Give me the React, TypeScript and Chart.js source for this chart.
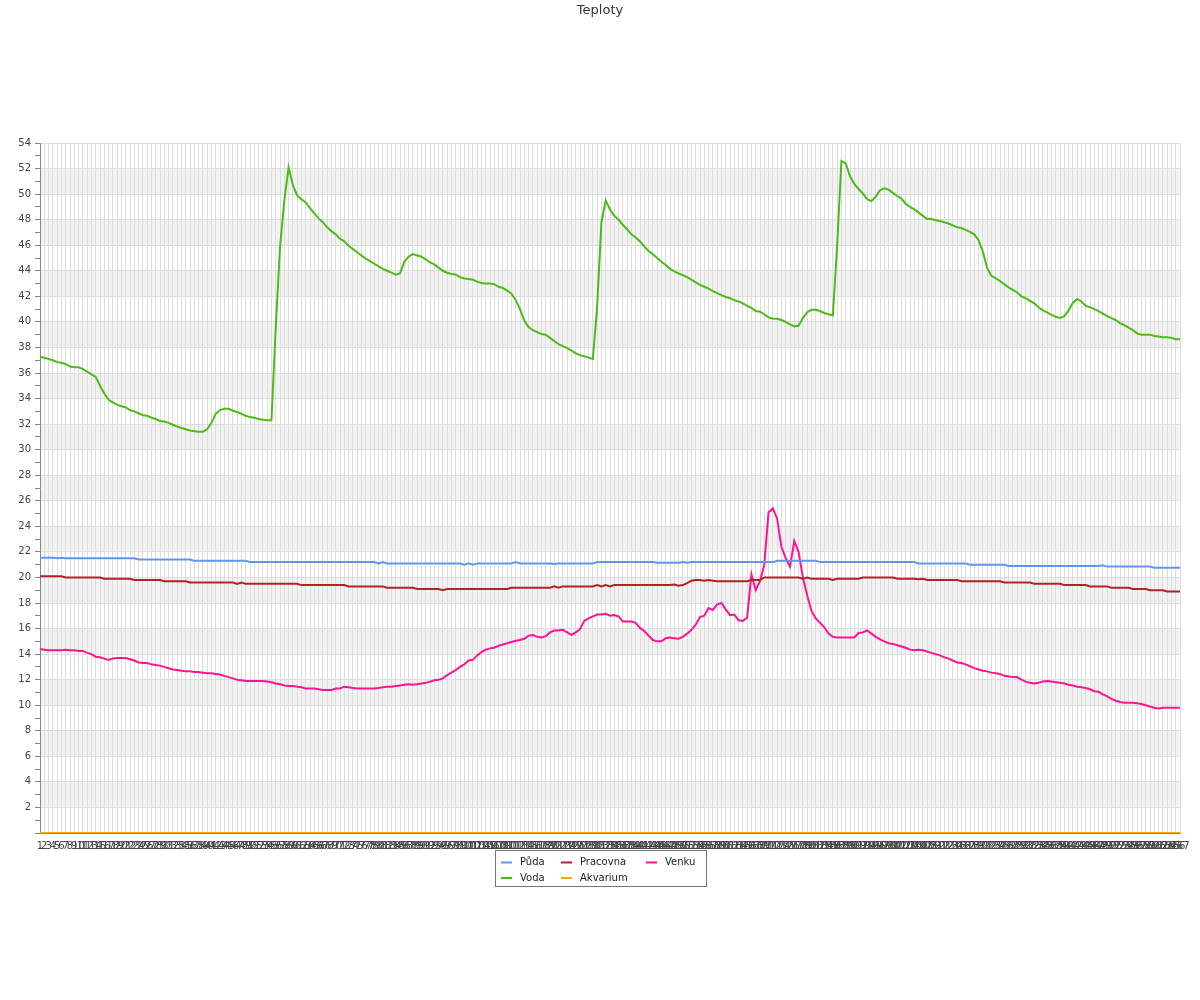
import React, { useEffect, useRef } from "react";
import { Chart, registerables } from "chart.js";

Chart.register(...registerables);

const TITLE = "Teploty";
const LABELS: string[] = Array.from({ length: 267 }, (_, i) => String(i + 1));

const PUDA = [
  21.55, 21.55, 21.55, 21.55, 21.5, 21.55, 21.5, 21.5, 21.5, 21.5,
  21.5, 21.5, 21.5, 21.5, 21.5, 21.5, 21.5, 21.5, 21.5, 21.5,
  21.5, 21.5, 21.5, 21.4, 21.4, 21.4, 21.4, 21.4, 21.4, 21.4,
  21.4, 21.4, 21.4, 21.4, 21.4, 21.4, 21.3, 21.3, 21.3, 21.3,
  21.3, 21.3, 21.3, 21.3, 21.3, 21.3, 21.3, 21.3, 21.3, 21.2,
  21.2, 21.2, 21.2, 21.2, 21.2, 21.2, 21.2, 21.2, 21.2, 21.2,
  21.2, 21.2, 21.2, 21.2, 21.2, 21.2, 21.2, 21.2, 21.2, 21.2,
  21.2, 21.2, 21.2, 21.2, 21.2, 21.2, 21.2, 21.2, 21.2, 21.1,
  21.2, 21.1, 21.1, 21.1, 21.1, 21.1, 21.1, 21.1, 21.1, 21.1,
  21.1, 21.1, 21.1, 21.1, 21.1, 21.1, 21.1, 21.1, 21.1, 21.0,
  21.1, 21.0, 21.1, 21.1, 21.1, 21.1, 21.1, 21.1, 21.1, 21.1,
  21.1, 21.2, 21.1, 21.1, 21.1, 21.1, 21.1, 21.1, 21.1, 21.1,
  21.05, 21.1, 21.1, 21.1, 21.1, 21.1, 21.1, 21.1, 21.1, 21.1,
  21.2, 21.2, 21.2, 21.2, 21.2, 21.2, 21.2, 21.2, 21.2, 21.2,
  21.2, 21.2, 21.2, 21.2, 21.15, 21.15, 21.15, 21.15, 21.15, 21.15,
  21.2, 21.15, 21.2, 21.2, 21.2, 21.2, 21.2, 21.2, 21.2, 21.2,
  21.2, 21.2, 21.2, 21.2, 21.2, 21.2, 21.2, 21.2, 21.2, 21.2,
  21.2, 21.2, 21.3, 21.3, 21.3, 21.3, 21.3, 21.3, 21.3, 21.3,
  21.3, 21.3, 21.2, 21.2, 21.2, 21.2, 21.2, 21.2, 21.2, 21.2,
  21.2, 21.2, 21.2, 21.2, 21.2, 21.2, 21.2, 21.2, 21.2, 21.2,
  21.2, 21.2, 21.2, 21.2, 21.2, 21.1, 21.1, 21.1, 21.1, 21.1,
  21.1, 21.1, 21.1, 21.1, 21.1, 21.1, 21.1, 21.0, 21.0, 21.0,
  21.0, 21.0, 21.0, 21.0, 21.0, 21.0, 20.9, 20.9, 20.9, 20.9,
  20.9, 20.9, 20.9, 20.9, 20.9, 20.9, 20.9, 20.9, 20.9, 20.9,
  20.9, 20.9, 20.9, 20.9, 20.9, 20.9, 20.9, 20.9, 20.95, 20.85,
  20.85, 20.85, 20.85, 20.85, 20.85, 20.85, 20.85, 20.85, 20.85, 20.85,
  20.75, 20.75, 20.75, 20.75, 20.75, 20.75, 20.75,
];

const VODA = [
  37.25, 37.2, 37.1, 37.0, 36.85, 36.8, 36.7, 36.5, 36.45, 36.45,
  36.3, 36.1, 35.9, 35.7, 35.0, 34.4, 33.9, 33.7, 33.5, 33.4,
  33.3, 33.1, 33.0, 32.85, 32.7, 32.65, 32.5, 32.4, 32.25, 32.2,
  32.1, 31.95, 31.8, 31.7, 31.6, 31.5, 31.45, 31.4, 31.4, 31.6,
  32.1, 32.8, 33.1, 33.2, 33.2, 33.05, 32.95, 32.8, 32.65, 32.55,
  32.5, 32.4, 32.35, 32.3, 32.3, 39.5, 45.8, 49.5, 52.1, 50.7,
  49.9, 49.6, 49.35, 48.9, 48.5, 48.1, 47.8, 47.4, 47.1, 46.85,
  46.5, 46.3, 45.95, 45.7, 45.45, 45.2, 44.95, 44.75, 44.55, 44.35,
  44.15, 44.0, 43.85, 43.7, 43.8, 44.7, 45.1, 45.3, 45.2, 45.1,
  44.9, 44.65, 44.5, 44.25, 44.0, 43.85, 43.75, 43.7, 43.5, 43.4,
  43.35, 43.3, 43.15, 43.05, 43.0, 43.0, 42.95, 42.75, 42.65, 42.45,
  42.2, 41.7, 41.0, 40.1, 39.6, 39.35, 39.2, 39.05, 39.0, 38.75,
  38.5, 38.25, 38.1, 37.95, 37.75, 37.55, 37.4, 37.3, 37.2, 37.1,
  41.2, 47.8, 49.5, 48.8, 48.3, 48.0, 47.6, 47.25, 46.85, 46.6,
  46.3, 45.9, 45.55, 45.3, 45.0, 44.7, 44.45, 44.15, 43.95, 43.8,
  43.65, 43.5, 43.3, 43.1, 42.9, 42.75, 42.6, 42.4, 42.25, 42.1,
  41.95, 41.85, 41.7, 41.6, 41.45, 41.25, 41.1, 40.85, 40.8, 40.6,
  40.35, 40.25, 40.25, 40.15, 40.0, 39.8, 39.65, 39.7, 40.3, 40.75,
  40.95, 40.95, 40.85, 40.7, 40.6, 40.5, 46.0, 52.6, 52.4, 51.4,
  50.8, 50.4, 50.05, 49.6, 49.45, 49.8, 50.3, 50.45, 50.35, 50.1,
  49.85, 49.65, 49.25, 49.0, 48.8, 48.55, 48.3, 48.05, 48.05, 47.95,
  47.9, 47.8, 47.7, 47.55, 47.4, 47.35, 47.2, 47.05, 46.85, 46.4,
  45.5, 44.2, 43.6, 43.4, 43.2, 42.95, 42.7, 42.5, 42.3, 42.0,
  41.85, 41.65, 41.45, 41.15, 40.9, 40.75, 40.55, 40.4, 40.3, 40.45,
  40.9, 41.5, 41.8, 41.6, 41.25, 41.15, 41.0, 40.85, 40.65, 40.45,
  40.3, 40.15, 39.9, 39.75, 39.55, 39.35, 39.1, 39.0, 39.0, 39.0,
  38.9, 38.85, 38.8, 38.8, 38.75, 38.65, 38.65,
];

const PRACOVNA = [
  20.1, 20.1, 20.1, 20.1, 20.1, 20.1, 20.0, 20.0, 20.0, 20.0,
  20.0, 20.0, 20.0, 20.0, 20.0, 19.9, 19.9, 19.9, 19.9, 19.9,
  19.9, 19.9, 19.8, 19.8, 19.8, 19.8, 19.8, 19.8, 19.8, 19.7,
  19.7, 19.7, 19.7, 19.7, 19.7, 19.6, 19.6, 19.6, 19.6, 19.6,
  19.6, 19.6, 19.6, 19.6, 19.6, 19.6, 19.5, 19.6, 19.5, 19.5,
  19.5, 19.5, 19.5, 19.5, 19.5, 19.5, 19.5, 19.5, 19.5, 19.5,
  19.5, 19.4, 19.4, 19.4, 19.4, 19.4, 19.4, 19.4, 19.4, 19.4,
  19.4, 19.4, 19.3, 19.3, 19.3, 19.3, 19.3, 19.3, 19.3, 19.3,
  19.3, 19.2, 19.2, 19.2, 19.2, 19.2, 19.2, 19.2, 19.1, 19.1,
  19.1, 19.1, 19.1, 19.1, 19.0, 19.1, 19.1, 19.1, 19.1, 19.1,
  19.1, 19.1, 19.1, 19.1, 19.1, 19.1, 19.1, 19.1, 19.1, 19.1,
  19.2, 19.2, 19.2, 19.2, 19.2, 19.2, 19.2, 19.2, 19.2, 19.2,
  19.3, 19.2, 19.3, 19.3, 19.3, 19.3, 19.3, 19.3, 19.3, 19.3,
  19.4, 19.3, 19.4, 19.3, 19.4, 19.4, 19.4, 19.4, 19.4, 19.4,
  19.4, 19.4, 19.4, 19.4, 19.4, 19.4, 19.4, 19.4, 19.45, 19.35,
  19.4, 19.55, 19.75, 19.8, 19.8, 19.75, 19.8, 19.75, 19.7, 19.7,
  19.7, 19.7, 19.7, 19.7, 19.7, 19.7, 19.8, 19.8, 19.8, 20.0,
  20.0, 20.0, 20.0, 20.0, 20.0, 20.0, 20.0, 20.0, 19.9, 20.0,
  19.9, 19.9, 19.9, 19.9, 19.9, 19.8, 19.9, 19.9, 19.9, 19.9,
  19.9, 19.9, 20.0, 20.0, 20.0, 20.0, 20.0, 20.0, 20.0, 20.0,
  19.9, 19.9, 19.9, 19.9, 19.9, 19.85, 19.9, 19.8, 19.8, 19.8,
  19.8, 19.8, 19.8, 19.8, 19.8, 19.7, 19.7, 19.7, 19.7, 19.7,
  19.7, 19.7, 19.7, 19.7, 19.7, 19.6, 19.6, 19.6, 19.6, 19.6,
  19.6, 19.6, 19.5, 19.5, 19.5, 19.5, 19.5, 19.5, 19.5, 19.4,
  19.4, 19.4, 19.4, 19.4, 19.4, 19.3, 19.3, 19.3, 19.3, 19.3,
  19.2, 19.2, 19.2, 19.2, 19.2, 19.1, 19.1, 19.1, 19.1, 19.0,
  19.0, 19.0, 19.0, 18.9, 18.9, 18.9, 18.9,
];

const AKVARIUM = [
  0, 0, 0, 0, 0, 0, 0, 0, 0, 0, 0, 0, 0, 0, 0, 0, 0, 0, 0, 0, 0, 0, 0, 0, 0, 0, 0, 0, 0, 0,
  0, 0, 0, 0, 0, 0, 0, 0, 0, 0, 0, 0, 0, 0, 0, 0, 0, 0, 0, 0, 0, 0, 0, 0, 0, 0, 0, 0, 0, 0,
  0, 0, 0, 0, 0, 0, 0, 0, 0, 0, 0, 0, 0, 0, 0, 0, 0, 0, 0, 0, 0, 0, 0, 0, 0, 0, 0, 0, 0, 0,
  0, 0, 0, 0, 0, 0, 0, 0, 0, 0, 0, 0, 0, 0, 0, 0, 0, 0, 0, 0, 0, 0, 0, 0, 0, 0, 0, 0, 0, 0,
  0, 0, 0, 0, 0, 0, 0, 0, 0, 0, 0, 0, 0, 0, 0, 0, 0, 0, 0, 0, 0, 0, 0, 0, 0, 0, 0, 0, 0, 0,
  0, 0, 0, 0, 0, 0, 0, 0, 0, 0, 0, 0, 0, 0, 0, 0, 0, 0, 0, 0, 0, 0, 0, 0, 0, 0, 0, 0, 0, 0,
  0, 0, 0, 0, 0, 0, 0, 0, 0, 0, 0, 0, 0, 0, 0, 0, 0, 0, 0, 0, 0, 0, 0, 0, 0, 0, 0, 0, 0, 0,
  0, 0, 0, 0, 0, 0, 0, 0, 0, 0, 0, 0, 0, 0, 0, 0, 0, 0, 0, 0, 0, 0, 0, 0, 0, 0, 0, 0, 0, 0,
  0, 0, 0, 0, 0, 0, 0, 0, 0, 0, 0, 0, 0, 0, 0, 0, 0, 0, 0, 0, 0, 0, 0, 0, 0, 0, 0,
];

const VENKU = [
  14.4, 14.35, 14.3, 14.3, 14.3, 14.3, 14.35, 14.3, 14.3, 14.25,
  14.25, 14.1, 14.0, 13.8, 13.75, 13.65, 13.55, 13.65, 13.7, 13.7,
  13.7, 13.6, 13.5, 13.35, 13.3, 13.3, 13.2, 13.15, 13.1, 13.0,
  12.9, 12.8, 12.75, 12.7, 12.65, 12.65, 12.6, 12.6, 12.55, 12.5,
  12.5, 12.45, 12.4, 12.3, 12.2, 12.1, 12.0, 11.95, 11.9, 11.9,
  11.9, 11.9, 11.9, 11.85, 11.8, 11.7, 11.65, 11.55, 11.5, 11.5,
  11.45, 11.4, 11.3, 11.3, 11.3, 11.25, 11.2, 11.2, 11.2, 11.3,
  11.3, 11.45, 11.4, 11.35, 11.3, 11.3, 11.3, 11.3, 11.3, 11.35,
  11.4, 11.45, 11.45, 11.5, 11.55, 11.6, 11.65, 11.6, 11.65, 11.7,
  11.75, 11.85, 11.95, 12.0, 12.1, 12.35, 12.55, 12.75, 13.0, 13.2,
  13.5, 13.55, 13.9, 14.15, 14.35, 14.45, 14.5, 14.65, 14.75, 14.85,
  14.95, 15.05, 15.1, 15.2, 15.45, 15.5, 15.35, 15.3, 15.4, 15.7,
  15.85, 15.85, 15.9, 15.7, 15.5, 15.7, 15.95, 16.6, 16.8, 16.95,
  17.1, 17.1, 17.15, 17.0, 17.05, 16.95, 16.55, 16.55, 16.55, 16.45,
  16.05, 15.8, 15.45, 15.1, 15.0, 15.0, 15.25, 15.3, 15.25, 15.2,
  15.35, 15.6, 15.9, 16.3, 16.9, 17.0, 17.6, 17.45, 17.9, 18.0,
  17.5, 17.05, 17.1, 16.65, 16.6, 16.85, 20.25, 19.0, 19.7, 21.0,
  25.1, 25.4, 24.6, 22.4, 21.5, 20.85, 22.85, 22.0, 20.0, 18.6,
  17.4, 16.8, 16.45, 16.1, 15.6, 15.35, 15.3, 15.3, 15.3, 15.3,
  15.3, 15.65, 15.7, 15.85, 15.6, 15.35, 15.15, 15.0, 14.85, 14.8,
  14.7, 14.6, 14.5, 14.35, 14.3, 14.35, 14.3, 14.2, 14.1, 14.0,
  13.9, 13.75, 13.65, 13.5, 13.35, 13.3, 13.2, 13.05, 12.9, 12.8,
  12.7, 12.65, 12.55, 12.5, 12.45, 12.3, 12.25, 12.2, 12.2, 12.0,
  11.85, 11.75, 11.7, 11.75, 11.85, 11.9, 11.85, 11.8, 11.75, 11.7,
  11.6, 11.55, 11.45, 11.4, 11.35, 11.25, 11.1, 11.05, 10.85, 10.7,
  10.5, 10.35, 10.25, 10.2, 10.2, 10.2, 10.15, 10.1, 10.0, 9.9,
  9.8, 9.75, 9.8, 9.8, 9.8, 9.8, 9.8,
];

const SERIES_NAMES = ["Půda", "Voda", "Pracovna", "Akvarium", "Venku"];
const SERIES_DATA = [PUDA, VODA, PRACOVNA, AKVARIUM, VENKU];
const SERIES_COLORS = ["#6495ed", "#4cbb17", "#b22222", "#ffa500", "#ff1493"];

const Y_MIN = 0;
const Y_MAX = 54;

const FONT = '"DejaVu Sans", sans-serif';

export default function App() {
  const ref = useRef<HTMLCanvasElement>(null);

  useEffect(() => {
    const canvas = ref.current;
    if (!canvas) return;

    const bands = {
      id: "bands",
      beforeDraw(chart: any) {
        const { ctx, chartArea: a } = chart;
        const y = chart.scales.y;
        ctx.save();
        ctx.fillStyle = "#f2f2f2";
        for (let v = 2; v < Y_MAX; v += 4) {
          const t = y.getPixelForValue(Math.min(v + 2, Y_MAX));
          const b = y.getPixelForValue(v);
          ctx.fillRect(a.left, t, a.right - a.left, b - t);
        }
        ctx.restore();
      },
    };

    const titleLegend = {
      id: "titleLegend",
      afterDraw(chart: any) {
        const { ctx, chartArea: a } = chart;
        ctx.save();
        // title
        ctx.font = `13px ${FONT}`;
        ctx.fillStyle = "#333";
        ctx.textAlign = "center";
        ctx.textBaseline = "middle";
        ctx.fillText(TITLE, chart.width / 2, 11);

        // legend box
        const boxW = 211;
        const boxH = 36;
        const left = Math.round(chart.width / 2) - 105;
        const top = Math.round(a.bottom) + 17;
        ctx.fillStyle = "#ffffff";
        ctx.fillRect(left, top, boxW, boxH);
        ctx.strokeStyle = "#777";
        ctx.lineWidth = 1;
        ctx.strokeRect(left + 0.5, top + 0.5, boxW, boxH);

        const colX = [6, 66, 151];
        const rowY = [12.5, 28];
        ctx.font = `10px ${FONT}`;
        ctx.textAlign = "left";
        ctx.textBaseline = "middle";
        SERIES_NAMES.forEach((name, i) => {
          const col = Math.floor(i / 2);
          const row = i % 2;
          const x = left + colX[col];
          const yy = top + rowY[row];
          ctx.strokeStyle = SERIES_COLORS[i];
          ctx.lineWidth = 2;
          ctx.beginPath();
          ctx.moveTo(x, yy);
          ctx.lineTo(x + 11, yy);
          ctx.stroke();
          ctx.fillStyle = "#222";
          ctx.fillText(name, x + 19, yy);
        });
        ctx.restore();
      },
    };

    const chart = new Chart(canvas, {
      type: "line",
      data: {
        labels: LABELS,
        datasets: SERIES_NAMES.map((name, i) => ({
          label: name,
          data: SERIES_DATA[i],
          borderColor: SERIES_COLORS[i],
          backgroundColor: SERIES_COLORS[i],
          borderWidth: 2,
          pointRadius: 0,
          pointHoverRadius: 0,
          tension: 0,
          fill: false,
        })),
      },
      options: {
        responsive: false,
        devicePixelRatio: 1,
        animation: false,
        events: [],
        layout: { padding: { top: 143, right: 20, bottom: 145, left: 0 } },
        plugins: {
          legend: { display: false },
          title: { display: false },
          tooltip: { enabled: false },
        },
        scales: {
          x: {
            type: "category",
            offset: false,
            grid: { color: "#dddddd", lineWidth: 1, drawTicks: false },
            border: { color: "#888888", width: 1 },
            ticks: {
              autoSkip: false,
              maxRotation: 0,
              minRotation: 0,
              padding: 7,
              color: "#444",
              font: { family: FONT, size: 10 },
            },
            afterFit: (s: any) => {
              s.height = 22;
            },
          },
          y: {
            min: Y_MIN,
            max: Y_MAX,
            grid: {
              color: (c: any) =>
                c.tick && c.tick.value % 2 === 0 ? "#dddddd" : "rgba(0,0,0,0)",
              tickColor: "#888888",
              tickLength: 5,
              drawTicks: true,
            },
            border: { color: "#888888", width: 1 },
            ticks: {
              stepSize: 1,
              autoSkip: false,
              padding: 4,
              color: "#444",
              font: { family: FONT, size: 10 },
              callback: (v: any) => (v % 2 === 0 && v !== 0 ? String(v) : ""),
            },
            afterFit: (s: any) => {
              s.width = 40;
            },
          },
        },
      } as any,
      plugins: [bands, titleLegend],
    });

    return () => chart.destroy();
  }, []);

  return (
    <div style={{ position: "fixed", left: 0, top: 0, width: 1200, height: 1000, background: "#fff" }}>
      <canvas ref={ref} width={1200} height={1000} style={{ display: "block", width: 1200, height: 1000 }} />
    </div>
  );
}
